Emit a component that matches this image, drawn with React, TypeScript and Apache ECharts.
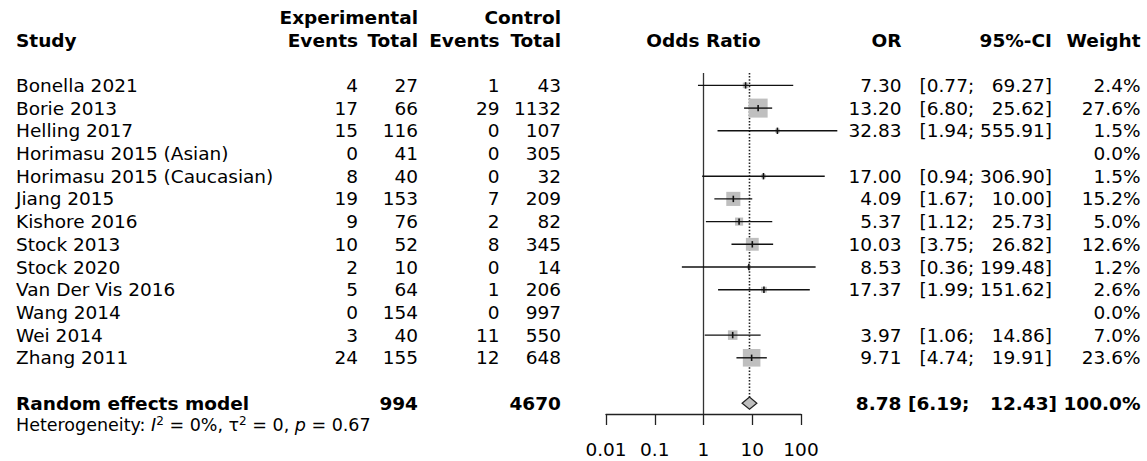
import React, { useEffect, useRef } from "react";
import * as echarts from "echarts";

// ---------------- data ----------------
const studies = [
  "Bonella 2021",
  "Borie 2013",
  "Helling 2017",
  "Horimasu 2015 (Asian)",
  "Horimasu 2015 (Caucasian)",
  "Jiang 2015",
  "Kishore 2016",
  "Stock 2013",
  "Stock 2020",
  "Van Der Vis 2016",
  "Wang 2014",
  "Wei 2014",
  "Zhang 2011",
];
const expEvents = [4, 17, 15, 0, 8, 19, 9, 10, 2, 5, 0, 3, 24];
const expTotal = [27, 66, 116, 41, 40, 153, 76, 52, 10, 64, 154, 40, 155];
const ctrlEvents = [1, 29, 0, 0, 0, 7, 2, 8, 0, 1, 0, 11, 12];
const ctrlTotal = [43, 1132, 107, 305, 32, 209, 82, 345, 14, 206, 997, 550, 648];
const oddsRatio: (number | null)[] = [7.3, 13.2, 32.83, null, 17.0, 4.09, 5.37, 10.03, 8.53, 17.37, null, 3.97, 9.71];
const ciLower: (number | null)[] = [0.77, 6.8, 1.94, null, 0.94, 1.67, 1.12, 3.75, 0.36, 1.99, null, 1.06, 4.74];
const ciUpper: (number | null)[] = [69.27, 25.62, 555.91, null, 306.9, 10.0, 25.73, 26.82, 199.48, 151.62, null, 14.86, 19.91];
const weights = [2.4, 27.6, 1.5, 0.0, 1.5, 15.2, 5.0, 12.6, 1.2, 2.6, 0.0, 7.0, 23.6];

const pooledLabel = "Random effects model";
const pooledOR = 8.78;
const pooledLower = 6.19;
const pooledUpper = 12.43;
const pooledWeight = 100.0;
const pooledExpTotal = 994;
const pooledCtrlTotal = 4670;

const axisTicks = [0.01, 0.1, 1, 10, 100];
const axisTickLabels = ["0.01", "0.1", "1", "10", "100"];

// ---------------- layout ----------------
const W = 1147;
const H = 461;
const FONT = "DejaVu Sans";
const FS = 18.5;
const FS_HET = 17.5;
const ROW_H = 22.7;
const ROW0_Y = 40; // pixel y of header row (row index 0)
const AXIS_Y = 414;
const Y_MIN = (0 - ROW0_Y) / ROW_H;
const Y_MAX = (AXIS_Y - ROW0_Y) / ROW_H;
const PLOT_LEFT = 606;
const PLOT_WIDTH = 195;
const FIRST_ROW = 2;
const POOLED_ROW = FIRST_ROW + studies.length + 1;
const HET_ROW = POOLED_ROW + 0.97;
const LINE_TOP_ROW = 1.45;
const DIAMOND_HALF = 0.27;
const SQ_K = 3.62;

const X_STUDY = 16;
const X_EXP_EV = 358;
const X_EXP_TOT = 418;
const X_CTRL_EV = 499.5;
const X_CTRL_TOT = 561;
const X_OR = 901.5;
const X_CI_L = 919.5;
const X_CI_R = 1052;
const X_CI_L_BOLD = 908;
const X_CI_R_BOLD = 1057;
const X_W = 1140.5;

type TextItem = {
  x: number;
  row: number;
  text: string;
  align: "left" | "right" | "center";
  bold?: boolean;
  size?: number;
  rich?: any;
};

function buildTexts(): TextItem[] {
  const t: TextItem[] = [];
  // headers
  t.push({ x: X_EXP_TOT, row: -1, text: "Experimental", align: "right", bold: true });
  t.push({ x: X_CTRL_TOT, row: -1, text: "Control", align: "right", bold: true });
  t.push({ x: X_STUDY, row: 0, text: "Study", align: "left", bold: true });
  t.push({ x: X_EXP_EV, row: 0, text: "Events", align: "right", bold: true });
  t.push({ x: X_EXP_TOT, row: 0, text: "Total", align: "right", bold: true });
  t.push({ x: X_CTRL_EV, row: 0, text: "Events", align: "right", bold: true });
  t.push({ x: X_CTRL_TOT, row: 0, text: "Total", align: "right", bold: true });
  t.push({ x: PLOT_LEFT + PLOT_WIDTH / 2, row: 0, text: "Odds Ratio", align: "center", bold: true });
  t.push({ x: X_OR, row: 0, text: "OR", align: "right", bold: true });
  t.push({ x: X_CI_R, row: 0, text: "95%-CI", align: "right", bold: true });
  t.push({ x: X_W, row: 0, text: "Weight", align: "right", bold: true });

  studies.forEach((s, i) => {
    const row = FIRST_ROW + i;
    t.push({ x: X_STUDY, row, text: s, align: "left" });
    t.push({ x: X_EXP_EV, row, text: String(expEvents[i]), align: "right" });
    t.push({ x: X_EXP_TOT, row, text: String(expTotal[i]), align: "right" });
    t.push({ x: X_CTRL_EV, row, text: String(ctrlEvents[i]), align: "right" });
    t.push({ x: X_CTRL_TOT, row, text: String(ctrlTotal[i]), align: "right" });
    const o = oddsRatio[i];
    const lo = ciLower[i];
    const up = ciUpper[i];
    if (o != null && lo != null && up != null) {
      t.push({ x: X_OR, row, text: o.toFixed(2), align: "right" });
      t.push({ x: X_CI_L, row, text: "[" + lo.toFixed(2) + ";", align: "left" });
      t.push({ x: X_CI_R, row, text: up.toFixed(2) + "]", align: "right" });
    }
    t.push({ x: X_W, row, text: weights[i].toFixed(1) + "%", align: "right" });
  });

  t.push({ x: X_STUDY, row: POOLED_ROW, text: pooledLabel, align: "left", bold: true });
  t.push({ x: X_EXP_TOT, row: POOLED_ROW, text: String(pooledExpTotal), align: "right", bold: true });
  t.push({ x: X_CTRL_TOT, row: POOLED_ROW, text: String(pooledCtrlTotal), align: "right", bold: true });
  t.push({ x: X_OR, row: POOLED_ROW, text: pooledOR.toFixed(2), align: "right", bold: true });
  t.push({ x: X_CI_L_BOLD, row: POOLED_ROW, text: "[" + pooledLower.toFixed(2) + ";", align: "left", bold: true });
  t.push({ x: X_CI_R_BOLD, row: POOLED_ROW, text: pooledUpper.toFixed(2) + "]", align: "right", bold: true });
  t.push({ x: X_W, row: POOLED_ROW, text: pooledWeight.toFixed(1) + "%", align: "right", bold: true });

  t.push({
    x: X_STUDY,
    row: HET_ROW,
    text: "Heterogeneity: {it|I}{sup|2} = 0%, τ{sup|2} = 0, {it|p} = 0.67",
    align: "left",
    size: FS_HET,
    rich: {
      it: { fontStyle: "italic", fontSize: FS_HET, fontFamily: FONT, fill: "#000" },
      sup: { fontSize: 12, fontFamily: FONT, fill: "#000", padding: [0, 0, 9, 0] },
    },
  });
  return t;
}

export default function App() {
  const ref = useRef<HTMLDivElement>(null);

  useEffect(() => {
    if (!ref.current) return;
    const chart = echarts.init(ref.current, null, { renderer: "svg", width: W, height: H });
    const texts = buildTexts();

    const studyData: number[][] = [];
    studies.forEach((_, i) => {
      const o = oddsRatio[i];
      const lo = ciLower[i];
      const up = ciUpper[i];
      if (o != null && lo != null && up != null) {
        studyData.push([o, FIRST_ROW + i, lo, up, weights[i]]);
      }
    });

    const yAxisBase = {
      type: "value" as const,
      inverse: true,
      min: Y_MIN,
      max: Y_MAX,
      show: false,
    };

    const option: any = {
      animation: false,
      textStyle: { fontFamily: FONT },
      grid: [
        { left: PLOT_LEFT, width: PLOT_WIDTH, top: 0, height: AXIS_Y, containLabel: false },
        { left: 0, width: W, top: 0, height: AXIS_Y, containLabel: false },
      ],
      xAxis: [
        {
          type: "log",
          logBase: 10,
          gridIndex: 0,
          min: axisTicks[0],
          max: axisTicks[axisTicks.length - 1],
          position: "bottom",
          axisLine: { show: true, onZero: false, lineStyle: { color: "#222", width: 1.3 } },
          axisTick: { show: true, inside: false, length: 11, lineStyle: { color: "#222", width: 1.3 } },
          axisLabel: {
            show: true,
            color: "#000",
            fontSize: FS,
            fontFamily: FONT,
            margin: 26,
            formatter: (v: number) => {
              const idx = axisTicks.findIndex((t) => Math.abs(Math.log10(t) - Math.log10(v)) < 1e-6);
              return idx >= 0 ? axisTickLabels[idx] : "";
            },
          },
          splitLine: { show: false },
          minorTick: { show: false },
        },
        { type: "value", gridIndex: 1, min: 0, max: W, show: false },
      ],
      yAxis: [
        { ...yAxisBase, gridIndex: 0 },
        { ...yAxisBase, gridIndex: 1 },
      ],
      series: [
        {
          type: "custom",
          name: "refs",
          xAxisIndex: 0,
          yAxisIndex: 0,
          silent: true,
          data: [
            [1, LINE_TOP_ROW, Y_MAX, 0],
            [pooledOR, LINE_TOP_ROW, POOLED_ROW - DIAMOND_HALF, 1],
          ],
          encode: { x: 0, y: [1, 2] },
          renderItem: (params: any, api: any) => {
            const a = api.coord([api.value(0), api.value(1)]);
            const b = api.coord([api.value(0), api.value(2)]);
            const dotted = api.value(3) === 1;
            return {
              type: "line",
              shape: { x1: a[0], y1: a[1], x2: b[0], y2: b[1] },
              style: dotted
                ? { stroke: "#222", lineWidth: 1.6, lineDash: [1.5, 1.7] }
                : { stroke: "#333", lineWidth: 1.3 },
            };
          },
        },
        {
          type: "custom",
          name: "studies",
          xAxisIndex: 0,
          yAxisIndex: 0,
          silent: true,
          data: studyData,
          encode: { x: [0, 2, 3], y: 1 },
          renderItem: (params: any, api: any) => {
            const row = api.value(1);
            const c = api.coord([api.value(0), row]);
            const l = api.coord([api.value(2), row]);
            const u = api.coord([api.value(3), row]);
            const side = Math.sqrt(api.value(4)) * SQ_K;
            return {
              type: "group",
              children: [
                {
                  type: "rect",
                  shape: { x: c[0] - side / 2, y: c[1] - side / 2, width: side, height: side },
                  style: { fill: "#bfbfbf" },
                },
                {
                  type: "line",
                  shape: { x1: l[0], y1: l[1], x2: u[0], y2: u[1] },
                  style: { stroke: "#111", lineWidth: 1.4 },
                },
                {
                  type: "line",
                  shape: { x1: c[0], y1: c[1] - 3.2, x2: c[0], y2: c[1] + 3.2 },
                  style: { stroke: "#111", lineWidth: 1.6 },
                },
              ],
            };
          },
        },
        {
          type: "custom",
          name: "pooled",
          xAxisIndex: 0,
          yAxisIndex: 0,
          silent: true,
          data: [[pooledOR, POOLED_ROW, pooledLower, pooledUpper]],
          encode: { x: [0, 2, 3], y: 1 },
          renderItem: (params: any, api: any) => {
            const row = api.value(1);
            const top = api.coord([api.value(0), row - DIAMOND_HALF]);
            const bot = api.coord([api.value(0), row + DIAMOND_HALF]);
            const l = api.coord([api.value(2), row]);
            const u = api.coord([api.value(3), row]);
            return {
              type: "polygon",
              shape: { points: [l, top, u, bot] },
              style: { fill: "#bfbfbf", stroke: "#222", lineWidth: 1.2 },
            };
          },
        },
        {
          type: "custom",
          name: "texts",
          xAxisIndex: 1,
          yAxisIndex: 1,
          silent: true,
          data: texts.map((t) => [t.x, t.row]),
          renderItem: (params: any, api: any) => {
            const it = texts[params.dataIndex];
            const p = api.coord([api.value(0), api.value(1)]);
            const style: any = {
              text: it.text,
              x: p[0],
              y: p[1],
              align: it.align,
              verticalAlign: "middle",
              fill: "#000",
              fontFamily: FONT,
              fontSize: it.size ?? FS,
              fontWeight: it.bold ? "bold" : "normal",
            };
            if (it.rich) style.rich = it.rich;
            return { type: "text", style };
          },
        },
      ],
    };

    chart.setOption(option);
    return () => {
      chart.dispose();
    };
  }, []);

  return (
    <div
      ref={ref}
      style={{ position: "fixed", left: 0, top: 0, width: W, height: H, background: "#fff" }}
    />
  );
}
